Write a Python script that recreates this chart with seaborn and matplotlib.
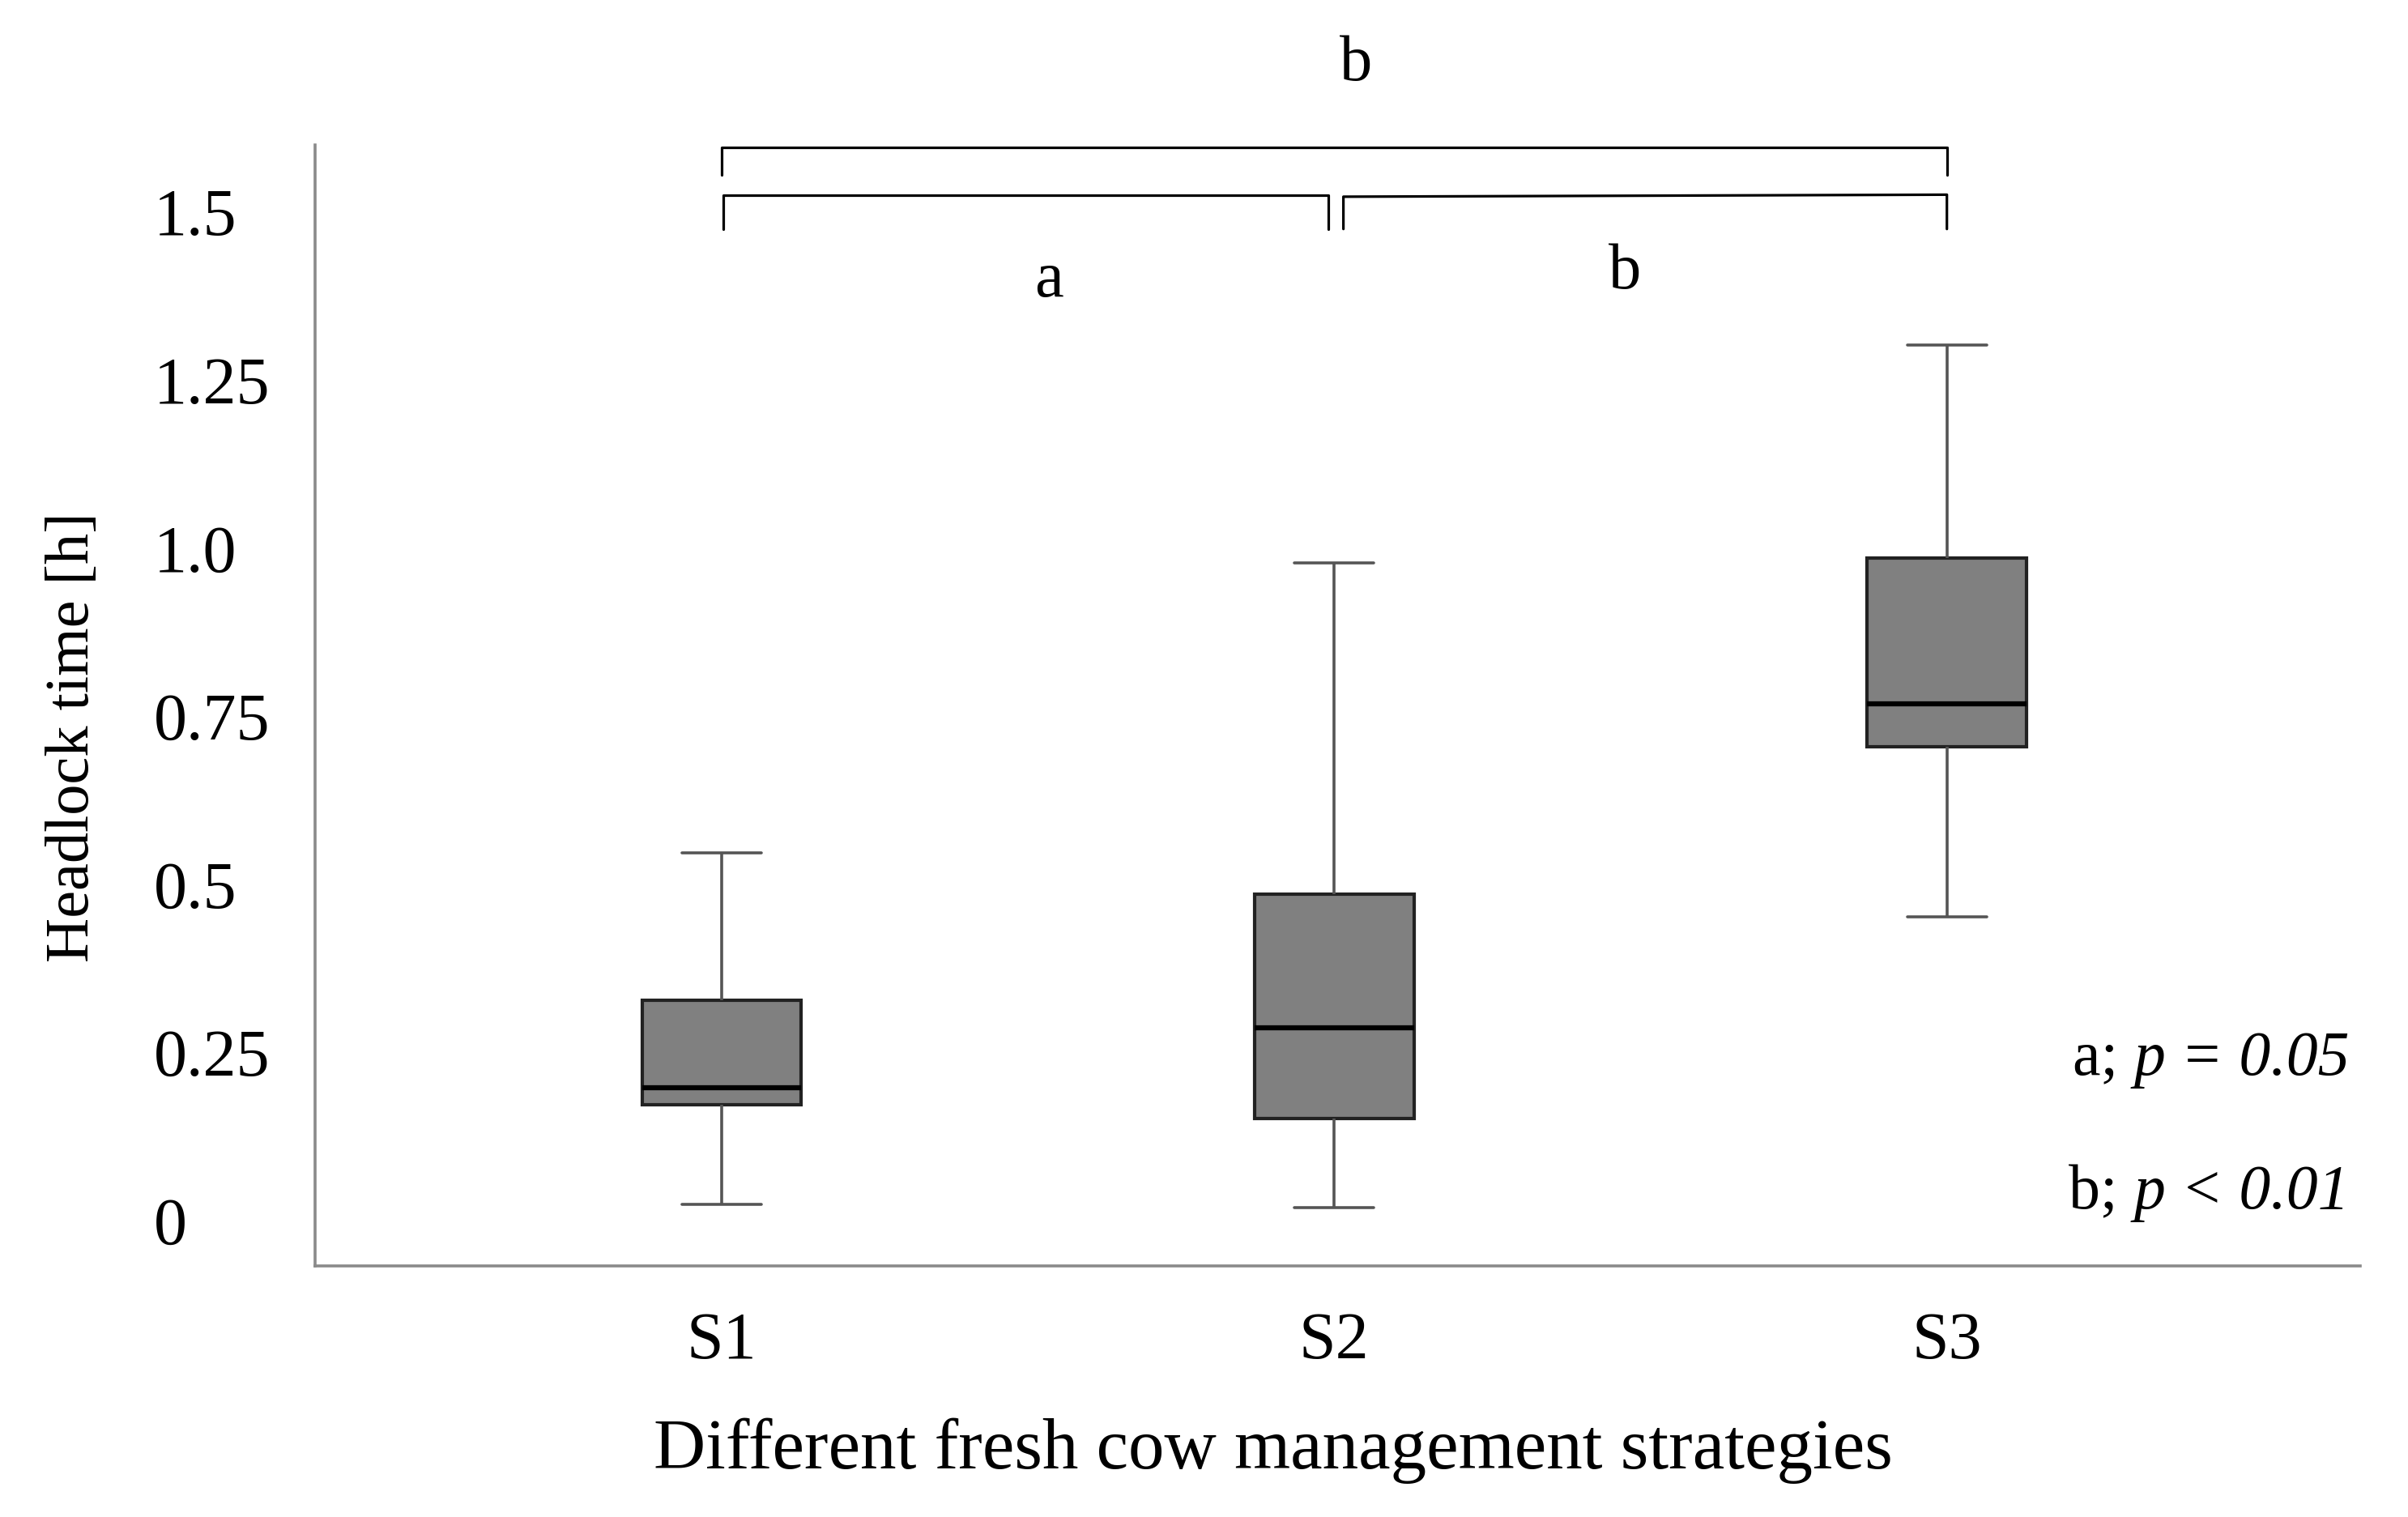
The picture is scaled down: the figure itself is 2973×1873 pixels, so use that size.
import numpy as np
import pandas as pd
import matplotlib
matplotlib.use("Agg")
import matplotlib.pyplot as plt
import seaborn as sns

# ---- data (five-number summaries: min, Q1, median, Q3, max)
strategies = ["S1", "S2", "S3"]
s1_summary = [0.023, 0.171, 0.196, 0.326, 0.546]
s2_summary = [0.018, 0.151, 0.285, 0.484, 0.977]
s3_summary = [0.450, 0.703, 0.767, 0.984, 1.301]
ytick_values = [0, 0.25, 0.5, 0.75, 1.0, 1.25, 1.5]
ytick_labels = ["0", "0.25", "0.5", "0.75", "1.0", "1.25", "1.5"]
xlabel = "Different fresh cow management strategies"
ylabel = "Headlock time [h]"

df = pd.DataFrame({
    "strategy": np.repeat(strategies, 5),
    "value": s1_summary + s2_summary + s3_summary,
})

sns.set_theme(style="white")
plt.rcParams["font.family"] = ["Liberation Serif", "DejaVu Serif"]
plt.rcParams["text.color"] = "black"
plt.rcParams["axes.labelcolor"] = "black"
plt.rcParams["xtick.color"] = "black"
plt.rcParams["ytick.color"] = "black"

W, H, DPI = 2973, 1874, 100
fig = plt.figure(figsize=(W / DPI, H / DPI), dpi=DPI)
fig.patch.set_facecolor("white")
ax = fig.add_axes([0.1307, 0.1654, 0.8493, 0.7386])

sns.boxplot(
    data=df, x="strategy", y="value", order=strategies, ax=ax,
    whis=(0, 100), width=0.26, color="#808080", saturation=1,
    linecolor="#222222", linewidth=3,
    medianprops=dict(color="black", linewidth=4.5),
    whiskerprops=dict(color="#555555", linewidth=2.6),
    capprops=dict(color="#555555", linewidth=2.6),
    boxprops=dict(edgecolor="#222222", linewidth=3),
)

ax.set_xlim(-0.664, 2.674)
ax.set_ylim(-0.0685, 1.598)
ax.set_yticks(ytick_values)
ax.set_yticklabels(ytick_labels)
for lab in ax.get_yticklabels():
    lab.set_horizontalalignment("left")
ax.tick_params(axis="y", length=0, pad=143, labelsize=59, colors="black")
ax.tick_params(axis="x", length=0, pad=40, labelsize=59, colors="black")
ax.set_xlabel(xlabel, fontsize=64, color="black")
ax.set_ylabel(ylabel, fontsize=55, color="black")
ax.xaxis.set_label_coords(0.4685, -0.1644)
ax.xaxis.label.set_va("center")
ax.yaxis.set_label_coords(-0.118, 0.4726)
ax.yaxis.label.set_va("center")
ax.yaxis.label.set_ha("center")

for side in ["top", "right"]:
    ax.spines[side].set_visible(False)
for side in ["left", "bottom"]:
    ax.spines[side].set_color("#8a8a8a")
    ax.spines[side].set_linewidth(2.6)

# ---- significance brackets
blw = 2.3
ax.plot([0, 0, 2, 2], [1.553, 1.594, 1.594, 1.553], color="black", lw=blw, clip_on=False)
ax.plot([0.003, 0.003, 0.99, 0.99], [1.473, 1.523, 1.523, 1.473], color="black", lw=blw, clip_on=False)
ax.plot([1.015, 1.015, 2.0, 2.0], [1.473, 1.521, 1.524, 1.473], color="black", lw=blw, clip_on=False)
ax.text(1.035, 1.719, "b", ha="center", va="center", fontsize=58, clip_on=False)
ax.text(0.534, 1.397, "a", ha="center", va="center", fontsize=58)
ax.text(1.474, 1.409, "b", ha="center", va="center", fontsize=58)

# ---- p-value legend (regular letter + italic statistic)
fig.canvas.draw()
renderer = fig.canvas.get_renderer()
for letter, stat, yv in [("a; ", "p = 0.05", 0.24), ("b; ", "p < 0.01", 0.041)]:
    t_it = ax.text(2.657, yv, stat, ha="right", va="center", fontsize=56, style="italic")
    bb = t_it.get_window_extent(renderer=renderer)
    x_left = ax.transData.inverted().transform((bb.x0, bb.y0))[0]
    ax.text(x_left, yv, letter, ha="right", va="center", fontsize=56)

fig.savefig("out.png", dpi=DPI, facecolor="white")
